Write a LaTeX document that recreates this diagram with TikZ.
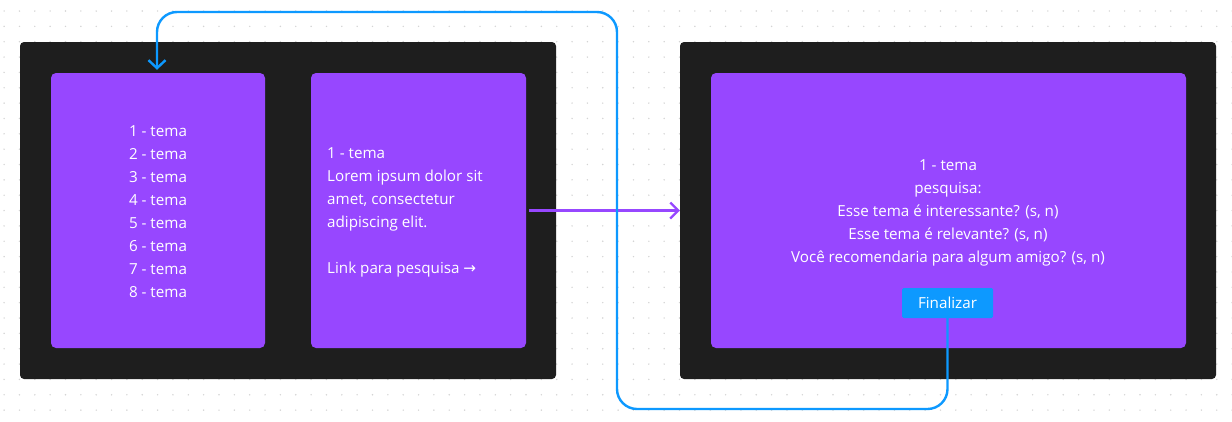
\documentclass[tikz,border=0pt]{standalone}
\usepackage{fontspec}
\setmainfont{Open Sans}
\newfontfamily\symfont{DejaVu Sans}
\usetikzlibrary{arrows.meta}
\definecolor{frameblack}{HTML}{1E1E1E}
\definecolor{boxpurple}{HTML}{9747FF}
\definecolor{linkblue}{HTML}{0D99FF}
\definecolor{gridgray}{HTML}{D4D4D4}
\begin{document}
\begin{tikzpicture}[x=1pt,y=-1pt,
  frame/.style={fill=frameblack,rounded corners=4pt,minimum width=536pt,minimum height=337pt,inner sep=0pt},
  card/.style={fill=boxpurple,rounded corners=5pt,minimum height=275pt,inner sep=0pt},
  txt/.style={text=white,font=\fontsize{15.2}{23}\selectfont,inner sep=0pt},
  button/.style={fill=linkblue,rounded corners=1.5pt,minimum width=91pt,minimum height=30pt,inner sep=0pt,text=white,font=\fontsize{15.2}{17}\selectfont},
  loop/.style={linkblue,line width=2.4pt,rounded corners=20pt,-{Straight Barb[length=8pt,width=17pt,line width=2.4pt]}},
  next/.style={boxpurple,line width=2.2pt,-{Straight Barb[length=8pt,width=16pt,line width=2.2pt]}}]
\useasboundingbox [fill=white] (0,0) rectangle (1232,421);
\foreach \i in {0,...,80}
  \foreach \j in {0,...,27}
    \fill [gridgray] (4.1+\i*15.35,11+\j*15.35) circle (0.8pt);
\node [frame] (lframe) at (288,210.5) {};
\node [frame] (rframe) at (948,210.5) {};
\node [card,minimum width=214pt] (themes) at (158,210.5) {};
\node [card,minimum width=215pt] (detail) at (418.5,210.5) {};
\node [card,minimum width=475pt] (survey) at (948.5,210.5) {};
\node [txt,align=left] (themelist) at (158,212) {1 - tema\\2 - tema\\3 - tema\\4 - tema\\5 - tema\\6 - tema\\7 - tema\\8 - tema};
\node [txt,align=left,anchor=west] (detailtext) at (327,212) {1 - tema\\Lorem ipsum dolor sit\\amet, consectetur\\adipiscing elit.\\[23pt]Link para pesquisa {\symfont →}};
\node [txt,align=center] (questions) at (948,212.5) {1 - tema\\pesquisa:\\Esse tema é interessante? (s, n)\\Esse tema é relevante? (s, n)\\Você recomendaria para algum amigo? (s, n)};
\node [button] (finish) at (947.5,303) {Finalizar};
\draw [next,shorten <=3pt] (detail.east) -- (rframe.west);
\draw [loop,shorten >=3pt] (finish.south) |- (617,409) |- (157,12) -- (themes.north -| 157,0);
\end{tikzpicture}
\end{document}
